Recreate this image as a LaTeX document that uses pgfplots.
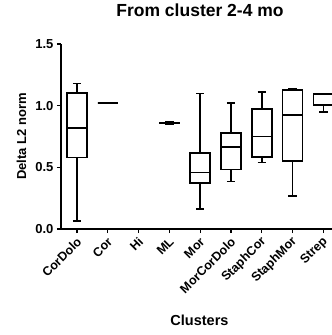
\documentclass[border=0pt]{standalone}
\usepackage{pgfplots}
\pgfplotsset{compat=1.18}
\usepgfplotslibrary{statistics}
\usepackage{fontspec}
\setmainfont{Liberation Sans}
\begin{document}
\begin{tikzpicture}
\path[use as bounding box] (-61pt,-106pt) rectangle (271pt,229pt);
\begin{axis}[
  at={(0pt,0pt)}, anchor=south west,
  scale only axis, width=271pt, height=185pt,
  xmin=-0.52, xmax=8.28, ymin=0, ymax=1.5,
  axis x line*=bottom, axis y line*=left,
  axis line style={-, line width=1.3pt},
  tick align=outside, major tick length=4pt,
  tick style={black, line width=1.3pt},
  xtick={0,1,2,3,4,5,6,7,8},
  xticklabels={CorDolo,Cor,Hi,ML,Mor,MorCorDolo,StaphCor,StaphMor,Strep},
  xticklabel style={xshift=3pt, yshift=-6pt, rotate=45, anchor=east, font=\fontsize{12.5}{15}\selectfont\bfseries, inner sep=1pt},
  ytick={0,0.5,1.0,1.5},
  yticklabel style={font=\fontsize{13}{15}\selectfont\bfseries, /pgf/number format/fixed, /pgf/number format/fixed zerofill, /pgf/number format/precision=1, /pgf/number format/assume math mode=true},
  xlabel={Clusters},
  xlabel style={at={(axis description cs:0.511,-0.492)}, anchor=center, font=\fontsize{14.5}{17}\selectfont\bfseries},
  ylabel={Delta L2 norm},
  ylabel style={at={(axis description cs:-0.146,0.5)}, anchor=center, font=\fontsize{13}{15}\selectfont\bfseries},
  title={From cluster 2-4 mo},
  title style={at={(axis description cs:0.513,1.151)}, anchor=center, font=\fontsize{17.5}{20}\selectfont\bfseries},
  boxplot/draw direction=y,
  boxplot/box extend=0.65,
  boxplot/whisker extend=0.27,
  boxplot/every box/.style={draw=black, line width=1.6pt},
  boxplot/every median/.style={draw=black, line width=1.6pt},
  boxplot/every whisker/.style={draw=black, line width=1.6pt},
  clip=true,
]
\addplot[black, line width=1.6pt, boxplot prepared={draw position=0, lower whisker=0.067, lower quartile=0.58, median=0.82, upper quartile=1.105, upper whisker=1.18}] coordinates {};
\addplot[black, line width=1.6pt, boxplot prepared={draw position=1, lower whisker=1.02, lower quartile=1.02, median=1.02, upper quartile=1.02, upper whisker=1.02}] coordinates {};
\addplot[black, line width=1.6pt, boxplot prepared={draw position=3, lower whisker=0.852, lower quartile=0.856, median=0.86, upper quartile=0.865, upper whisker=0.868}] coordinates {};
\addplot[black, line width=1.6pt, boxplot prepared={draw position=4, lower whisker=0.16, lower quartile=0.375, median=0.457, upper quartile=0.614, upper whisker=1.10}] coordinates {};
\addplot[black, line width=1.6pt, boxplot prepared={draw position=5, lower whisker=0.384, lower quartile=0.484, median=0.667, upper quartile=0.776, upper whisker=1.02}] coordinates {};
\addplot[black, line width=1.6pt, boxplot prepared={draw position=6, lower whisker=0.538, lower quartile=0.586, median=0.749, upper quartile=0.973, upper whisker=1.11}] coordinates {};
\addplot[black, line width=1.6pt, boxplot prepared={draw position=7, lower whisker=0.27, lower quartile=0.55, median=0.925, upper quartile=1.127, upper whisker=1.14}] coordinates {};
\addplot[black, line width=1.6pt, boxplot prepared={draw position=8, lower whisker=0.95, lower quartile=1.005, median=1.09, upper quartile=1.10, upper whisker=1.10}] coordinates {};
\end{axis}
\end{tikzpicture}
\end{document}
